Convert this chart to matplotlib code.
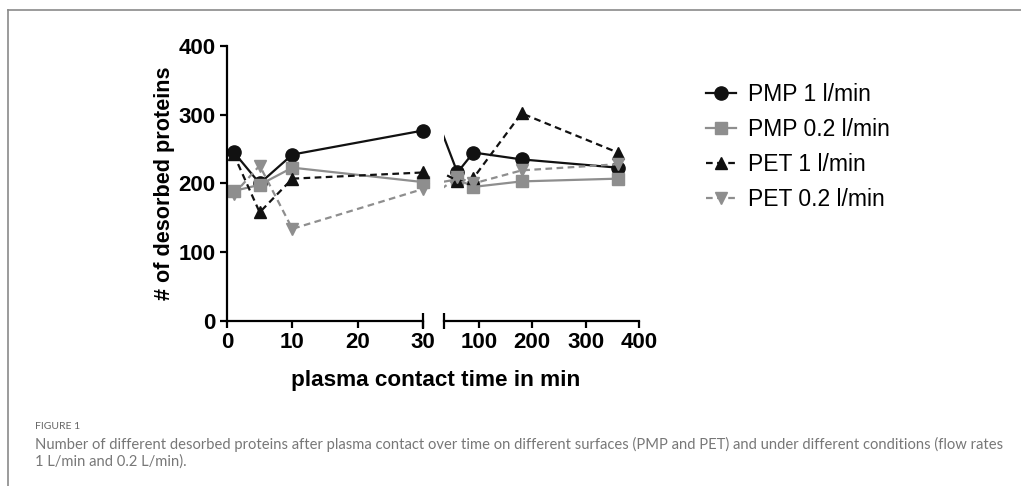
import matplotlib
matplotlib.use("Agg")
from matplotlib import pyplot as plt
from matplotlib.lines import Line2D

plt.rcParams['font.family'] = ['Liberation Sans', 'DejaVu Sans']

# contact time in min
times = [1, 5, 10, 30, 60, 90, 180, 360]

pmp_1 = [246, 200, 242, 277, 216, 245, 235, 223]
pmp_02 = [189, 198, 223, 202, 206, 195, 203, 207]
pet_1 = [243, 158, 207, 216, 204, 208, 302, 245]
pet_02 = [184, 226, 134, 192, 209, 200, 219, 228]

labels = ['PMP 1 l/min', 'PMP 0.2 l/min', 'PET 1 l/min', 'PET 0.2 l/min']
y_ticks = [0, 100, 200, 300, 400]
left_ticks = [0, 10, 20, 30]
right_ticks = [100, 200, 300, 400]

black = '#111111'
grey = '#8e8e8e'
series = [
    (pmp_1, dict(color=black, marker='o', ms=9.5, ls='-')),
    (pmp_02, dict(color=grey, marker='s', ms=8, ls='-')),
    (pet_1, dict(color=black, marker='^', ms=8.5, ls=(0, (3, 2)))),
    (pet_02, dict(color=grey, marker='v', ms=8.5, ls=(0, (3, 2)))),
]

fig = plt.figure(figsize=(10.21, 4.86), dpi=100)
ax1 = fig.add_axes([0.2223, 0.3395, 0.1921, 0.566])
ax2 = fig.add_axes([0.4349, 0.3395, 0.1911, 0.566])

left_idx = [i for i, t in enumerate(times) if t <= 30]
right_idx = [i for i, t in enumerate(times) if t > 35]

for vals, st in series:
    # left segment: points up to 30 min, markers drawn whole at the edge
    ax1.plot([times[i] for i in left_idx], [vals[i] for i in left_idx], lw=1.6,
             mec=st['color'], clip_on=False, **st)
    # right segment: whole line clipped, markers only for the points inside
    ax2.plot(times, vals, lw=1.6, mec=st['color'], markevery=right_idx, **st)

for ax in (ax1, ax2):
    ax.set_ylim(0, 400)
    for s in ('top', 'right'):
        ax.spines[s].set_visible(False)
    ax.spines['bottom'].set_linewidth(1.6)
    ax.spines['left'].set_linewidth(1.6)
    ax.tick_params(width=1.6, length=5, labelsize=16, pad=3)

ax1.set_xlim(0, 30)
ax1.set_xticks(left_ticks)
ax1.set_yticks(y_ticks)
ax1.set_xticklabels([str(t) for t in left_ticks], fontweight='bold')
ax1.set_yticklabels([str(t) for t in y_ticks], fontweight='bold')
ax1.plot([30], [0], marker='|', ms=11, mew=1.6, color='black', clip_on=False)

ax2.set_xlim(35, 400)
ax2.set_xticks(right_ticks)
ax2.set_xticklabels([str(t) for t in right_ticks], fontweight='bold')
ax2.spines['left'].set_visible(False)
ax2.tick_params(axis='y', left=False, labelleft=False)
ax2.plot([35], [0], marker='|', ms=11, mew=1.6, color='black', clip_on=False)

fig.text(0.161, 0.622, '# of desorbed proteins', rotation=90, ha='center', va='center',
         fontsize=15.6, fontweight='bold')
fig.text(0.427, 0.218, 'plasma contact time in min', ha='center', va='center',
         fontsize=16.2, fontweight='bold')

handles = [Line2D([], [], lw=1.6, mec=st['color'], **st) for _, st in series]
fig.legend(handles, labels, loc='upper left', bbox_to_anchor=(0.671, 0.872), frameon=False,
           fontsize=16.5, handlelength=1.3, handletextpad=0.55, labelspacing=0.52)

# figure frame (top and left only)
fig.add_artist(Line2D([8 / 1021, 1], [1 - 10 / 486, 1 - 10 / 486], color='#8a8a8a', lw=1.2))
fig.add_artist(Line2D([8 / 1021, 8 / 1021], [0, 1 - 10 / 486], color='#8a8a8a', lw=1.2))

cap_font = ['Lato', 'DejaVu Sans']
fig.text(35 / 1021, 1 - 426 / 486, 'FIGURE 1', fontsize=7.5, color='#666666', va='center',
         family=cap_font)
fig.text(35 / 1021, 1 - 444 / 486,
         'Number of different desorbed proteins after plasma contact over time on different surfaces '
         '(PMP and PET) and under different conditions (flow rates',
         fontsize=10.6, color='#777777', va='center', family=cap_font)
fig.text(35 / 1021, 1 - 462 / 486, '1 L/min and 0.2 L/min).', fontsize=10.6, color='#777777',
         va='center', family=cap_font)

fig.savefig('out.png', dpi=100)
